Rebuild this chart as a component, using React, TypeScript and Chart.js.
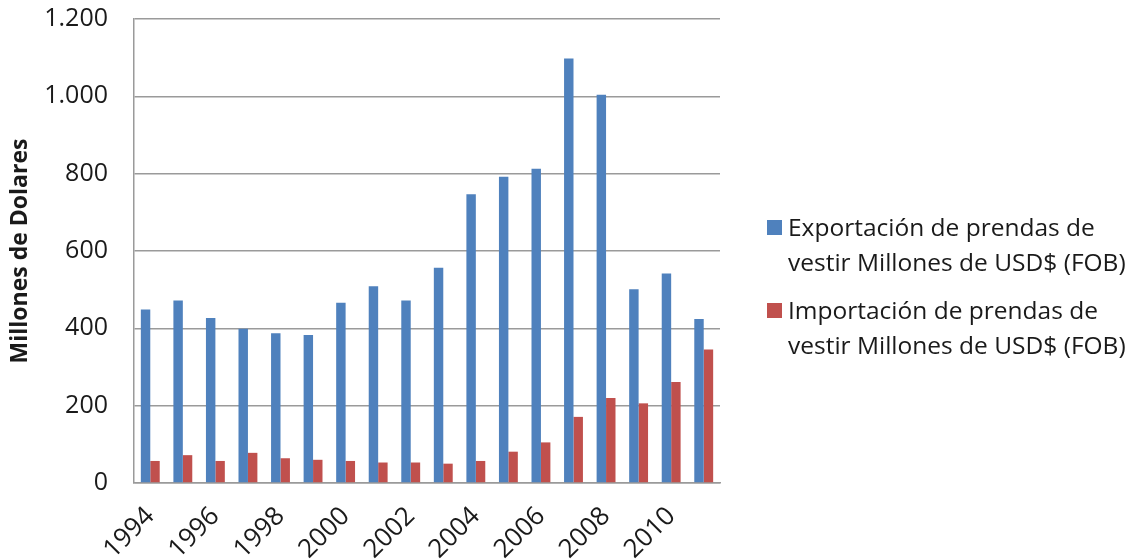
import React, { useEffect, useRef } from "react";
import { Chart, registerables } from "chart.js";

Chart.register(...registerables);

const years: string[] = [
  "1994", "1995", "1996", "1997", "1998", "1999", "2000", "2001", "2002",
  "2003", "2004", "2005", "2006", "2007", "2008", "2009", "2010", "2011",
];

const exportaciones: number[] = [
  449, 472, 427, 399, 387, 383, 466, 509, 472,
  557, 747, 792, 813, 1098, 1004, 501, 542, 424,
];

const importaciones: number[] = [
  57, 72, 57, 78, 64, 60, 57, 53, 53,
  50, 57, 81, 105, 171, 220, 206, 261, 345,
];

const seriesLabels: string[] = [
  "Exportación de prendas de vestir Millones de USD$ (FOB)",
  "Importación de prendas de vestir Millones de USD$ (FOB)",
];

const seriesColors: string[] = ["#4F81BD", "#C0504D"];

const yTitle = "Millones de Dolares";

const FONT = '"Open Sans", "Liberation Sans", sans-serif';
const TEXT = "#1a1a1a";
const GRID = "#9a9a9a";

function wrapWords(ctx: CanvasRenderingContext2D, text: string, maxWidth: number): string[] {
  const words = text.split(" ");
  const lines: string[] = [];
  let current = "";
  for (const w of words) {
    const next = current ? current + " " + w : w;
    if (ctx.measureText(next).width > maxWidth && current) {
      lines.push(current);
      current = w;
    } else {
      current = next;
    }
  }
  if (current) lines.push(current);
  return lines;
}

// Legend drawn to the right of the plot, with wrapped two-line entries.
const sideLegend = {
  id: "sideLegend",
  afterDraw(chart: any) {
    const ctx: CanvasRenderingContext2D = chart.ctx;
    ctx.save();
    ctx.font = `24.5px ${FONT}`;
    ctx.textBaseline = "alphabetic";
    ctx.textAlign = "left";
    const boxX = 767;
    const textX = 788;
    const lineGap = 34.5;
    const entryGap = 83;
    let baseline = 236;
    chart.data.datasets.forEach((ds: any) => {
      const lines = wrapWords(ctx, ds.label, 342);
      ctx.fillStyle = ds.backgroundColor;
      ctx.fillRect(boxX, baseline - 16, 15, 15);
      ctx.fillStyle = TEXT;
      lines.forEach((ln, j) => ctx.fillText(ln, textX, baseline + j * lineGap));
      baseline += entryGap;
    });
    ctx.restore();
  },
};

export default function App() {
  const canvasRef = useRef<HTMLCanvasElement | null>(null);

  useEffect(() => {
    if (!canvasRef.current) return;
    const chart = new Chart(canvasRef.current, {
      type: "bar",
      data: {
        labels: years,
        datasets: [
          {
            label: seriesLabels[0],
            data: exportaciones,
            backgroundColor: seriesColors[0],
            categoryPercentage: 0.58,
            barPercentage: 1,
          },
          {
            label: seriesLabels[1],
            data: importaciones,
            backgroundColor: seriesColors[1],
            categoryPercentage: 0.58,
            barPercentage: 1,
          },
        ],
      },
      options: {
        animation: false,
        responsive: true,
        maintainAspectRatio: false,
        layout: { padding: { top: 19, right: 411, left: 0, bottom: 0 } },
        plugins: {
          legend: { display: false },
          tooltip: { enabled: false },
        },
        scales: {
          x: {
            grid: { display: false, drawTicks: false },
            border: { display: true, color: GRID, width: 1.5 },
            ticks: {
              autoSkip: false,
              minRotation: 45,
              maxRotation: 45,
              padding: 18,
              color: TEXT,
              font: { family: FONT, size: 26 },
              callback: (_v: any, idx: number) => (idx % 2 === 0 ? years[idx] : ""),
            },
            afterFit: (scale: any) => {
              scale.height = 77;
              scale.paddingLeft = 0;
              scale.paddingRight = 0;
            },
          },
          y: {
            min: 0,
            max: 1200,
            grid: { color: GRID, lineWidth: 1.5, drawTicks: false },
            border: { display: true, color: GRID, width: 1.5 },
            ticks: {
              stepSize: 200,
              padding: 26,
              color: TEXT,
              font: { family: FONT, size: 25 },
              callback: (v: any) => Number(v).toLocaleString("de-DE"),
            },
            title: {
              display: true,
              text: yTitle,
              color: TEXT,
              font: { family: FONT, size: 23, weight: "bold" },
              padding: { top: 7, bottom: 0 },
            },
            afterFit: (scale: any) => {
              scale.width = 134;
              scale.paddingTop = 0;
              scale.paddingBottom = 0;
            },
          },
        },
      },
      plugins: [sideLegend],
    });
    return () => chart.destroy();
  }, []);

  return (
    <div style={{ position: "fixed", left: 0, top: 0, width: 1131, height: 560, background: "#fff" }}>
      <canvas ref={canvasRef} />
    </div>
  );
}
